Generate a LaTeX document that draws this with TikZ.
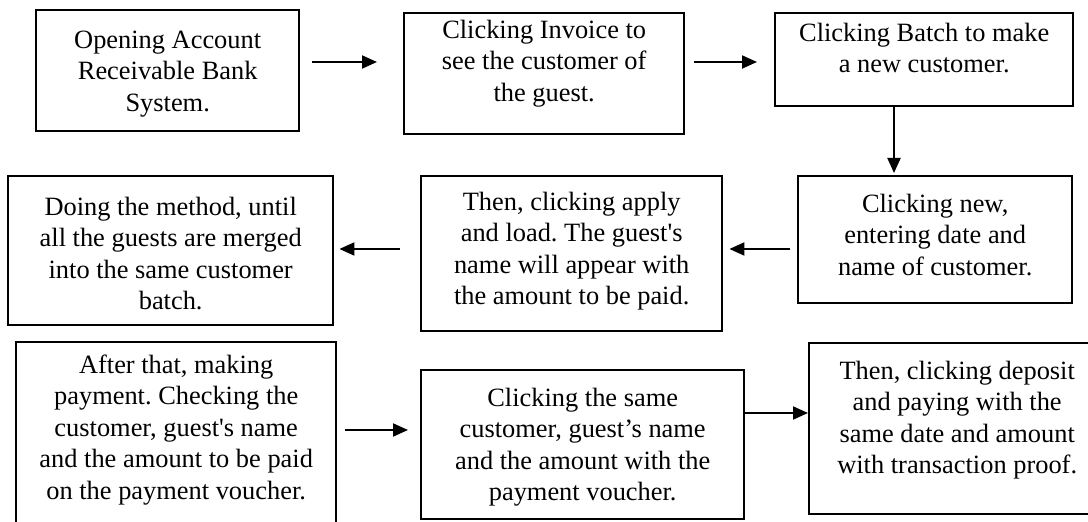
\documentclass[tikz,border=0pt]{standalone}
\usepackage{fontspec}
\setmainfont{Liberation Serif}
\usetikzlibrary{arrows.meta}
\tikzset{
  stepbox/.style={draw, line width=1.2pt, inner sep=0pt, anchor=north west,
    align=flush center, font=\fontsize{13.2}{15.8}\selectfont\frenchspacing},
  flow/.style={-{Triangle[length=7.5pt,width=6.5pt]}, line width=1pt}
}
\begin{document}
\begin{tikzpicture}[x=0.5pt,y=-0.5pt]
    \useasboundingbox (0,0) rectangle (1088,522);
    \clip (0,0) rectangle (1088,522);
    % first row
    \node[stepbox, text width=131.5pt, text height=19pt, text depth=41.5pt] (b1) at (35,9)
        {Opening Account\\Receivable Bank\\System.};
    \node[stepbox, text width=140pt, text height=12.5pt, text depth=48pt] (b2) at (403,12)
        {Clicking Invoice to\\see the customer of\\the guest.};
    \node[stepbox, text width=149pt, text height=14pt, text depth=32.5pt] (b3) at (774,12)
        {Clicking Batch to make\\a new customer.};
    % second row
    \node[stepbox, text width=137pt, text height=18pt, text depth=45.5pt] (b4) at (797,175)
        {Clicking new,\\entering date and\\name of customer.};
    \node[stepbox, text width=150.5pt, text height=17pt, text depth=60.5pt] (b5) at (420,175)
        {Then, clicking apply\\and load. The guest\textquotesingle s\\name will appear with\\the amount to be paid.};
    \node[stepbox, text width=162.5pt, text height=19.5pt, text depth=55pt] (b6) at (7,175)
        {Doing the method, until\\all the guests are merged\\into the same customer\\batch.};
    % third row
    \node[stepbox, text width=160pt, text height=15.5pt, text depth=94.5pt] (b7) at (15,341)
        {After that, making\\payment. Checking the\\customer, guest\textquotesingle s name\\and the amount to be paid\\on the payment voucher.};
    \node[stepbox, text width=161.5pt, text height=18pt, text depth=56.5pt] (b8) at (420,369)
        {Clicking the same\\customer, guest’s name\\and the amount with the\\payment voucher.};
    \node[stepbox, text width=148pt, text height=18pt, text depth=67.5pt] (b9) at (808,342)
        {Then, clicking deposit\\and paying with the\\same date and amount\\with transaction proof.};
    % arrows
    \draw[flow, shorten <=6pt, shorten >=13pt] (b1.east |- 0,62) -- (b2.west |- 0,62);
    \draw[flow, shorten <=4.5pt, shorten >=8.5pt] (b2.east |- 0,62) -- (b3.west |- 0,62);
    \draw[flow, shorten >=1pt] (b3.south -| 894,0) -- (b4.north -| 894,0);
    \draw[flow, shorten <=3.5pt, shorten >=3pt] (b4.west |- 0,249) -- (b5.east |- 0,249);
    \draw[flow, shorten <=10pt, shorten >=2.5pt] (b5.west |- 0,249) -- (b6.east |- 0,249);
    \draw[flow, shorten <=4pt, shorten >=6pt] (b7.east |- 0,430) -- (b8.west |- 0,430);
    \draw[flow] (b8.east |- 0,413) -- (b9.west |- 0,413);
\end{tikzpicture}
\end{document}
